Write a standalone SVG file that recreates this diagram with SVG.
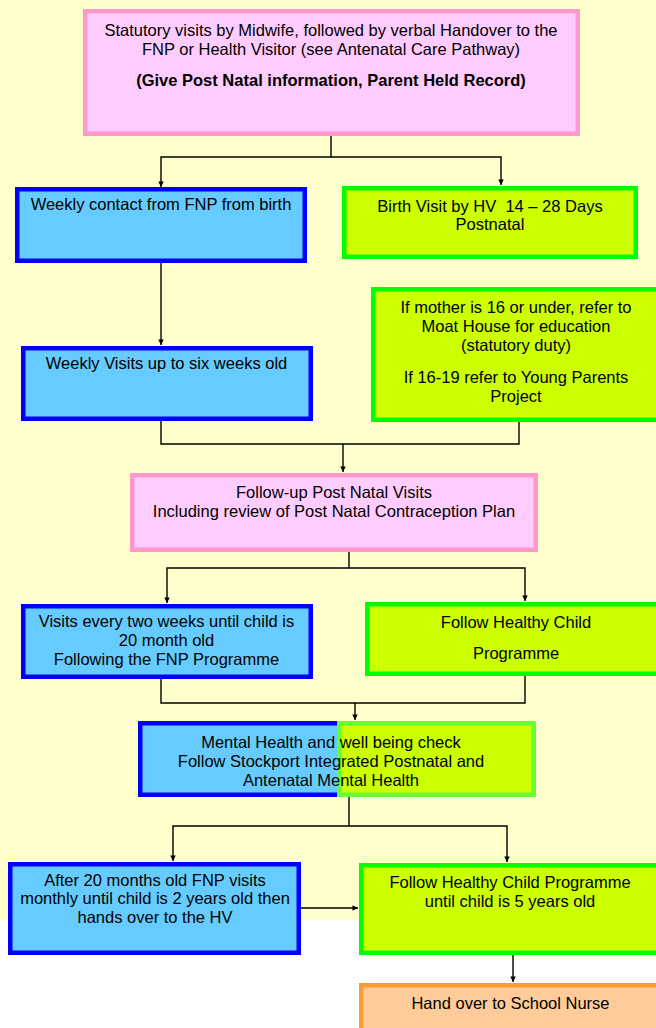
<svg xmlns="http://www.w3.org/2000/svg" width="656" height="1028" viewBox="0 0 656 1028">
<style>
text{font-family:"Liberation Sans",Arial,sans-serif;font-size:16.5px;fill:#000;text-anchor:middle}
.b{font-weight:bold}
.pink{fill:#FFCCFF;stroke:#FF99CC;stroke-width:4.5}
.blue{fill:#66CCFF;stroke:#0000FF;stroke-width:4.5}
.green{fill:#CCFF00;stroke:#00FF00;stroke-width:4.5}
.green2{fill:#CCFF00;stroke:#66FF33;stroke-width:4.5}
.orange{fill:#FFCC99;stroke:#FF9933;stroke-width:4.5}
.c{fill:none;stroke:#000;stroke-width:1.4}
.a{marker-end:url(#ah)}
</style>
<defs>
<marker id="ah" viewBox="0 0 10 10" refX="10" refY="5" markerWidth="6" markerHeight="5.5" markerUnits="userSpaceOnUse" orient="auto">
<path d="M0,0 L10,5 L0,10 z" fill="#000"/>
</marker>
</defs>
<rect x="0" y="0" width="656" height="920" fill="#FFFFCC"/>
<g id="connectors">
<path class="c a" d="M331,136 V157 H161 V187"/>
<path class="c a" d="M331,157 H501 V185"/>
<path class="c a" d="M161,263 V345"/>
<path class="c" d="M161,421 V444 H519 V422"/>
<path class="c a" d="M343,444 V472"/>
<path class="c a" d="M349,552 V568 H167 V603"/>
<path class="c a" d="M349,568 H525 V601"/>
<path class="c" d="M161,679 V703 H525 V676"/>
<path class="c a" d="M355,703 V720"/>
<path class="c a" d="M349,797 V826 H173 V861"/>
<path class="c a" d="M349,826 H507 V862"/>
<path class="c a" d="M301,908 H358"/>
<path class="c a" d="M513,955 V982"/>
</g>
<g id="n1">
<rect class="pink" x="85.25" y="11.25" width="492.5" height="122.5"/>
<text x="331" y="36">Statutory visits by Midwife, followed by verbal Handover to the</text>
<text x="331" y="55">FNP or Health Visitor (see Antenatal Care Pathway)</text>
<text class="b" x="331" y="86">(Give Post Natal information, Parent Held Record)</text>
</g>
<g id="n2">
<rect class="blue" x="17.25" y="189.25" width="287.5" height="71.5"/>
<text x="161" y="210">Weekly contact from FNP from birth</text>
</g>
<g id="n3">
<rect class="green" x="344.25" y="188.25" width="291.5" height="68.5"/>
<text x="490" y="212" xml:space="preserve">Birth Visit by HV  14 – 28 Days</text>
<text x="490" y="230">Postnatal</text>
</g>
<g id="n4">
<rect class="green" x="373.25" y="289.25" width="310" height="130.5"/>
<text x="516" y="313">If mother is 16 or under, refer to</text>
<text x="516" y="332">Moat House for education</text>
<text x="516" y="351">(statutory duty)</text>
<text x="516" y="383">If 16-19 refer to Young Parents</text>
<text x="516" y="402">Project</text>
</g>
<g id="n5">
<rect class="blue" x="23.25" y="348.25" width="287.5" height="70.5"/>
<text x="166.5" y="369">Weekly Visits up to six weeks old</text>
</g>
<g id="n6">
<rect class="pink" x="132.25" y="475.25" width="403.5" height="74.5"/>
<text x="334" y="498">Follow-up Post Natal Visits</text>
<text x="334" y="517">Including review of Post Natal Contraception Plan</text>
</g>
<g id="n7">
<rect class="blue" x="23.25" y="606.25" width="287.5" height="70.5"/>
<text x="166.5" y="627">Visits every two weeks until child is</text>
<text x="166.5" y="646">20 month old</text>
<text x="166.5" y="665">Following the FNP Programme</text>
</g>
<g id="n8">
<rect class="green" x="367.25" y="604.25" width="310" height="69.5"/>
<text x="516" y="628">Follow Healthy Child</text>
<text x="516" y="659">Programme</text>
</g>
<g id="n9">
<rect class="blue" x="140.25" y="723.25" width="240" height="71.5"/>
<rect class="green2" x="339.25" y="723.25" width="194.5" height="71.5"/>
<text x="331" y="748">Mental Health and well being check</text>
<text x="331" y="767">Follow Stockport Integrated Postnatal and</text>
<text x="331" y="786">Antenatal Mental Health</text>
</g>
<g id="n10">
<rect class="blue" x="10.25" y="864.25" width="288.5" height="88.5"/>
<text x="155" y="886">After 20 months old FNP visits</text>
<text x="155" y="904">monthly until child is 2 years old then</text>
<text x="155" y="923">hands over to the HV</text>
</g>
<g id="n11">
<rect class="green" x="361.25" y="865.25" width="320" height="87.5"/>
<text x="510" y="888">Follow Healthy Child Programme</text>
<text x="510" y="907">until child is 5 years old</text>
</g>
<g id="n12">
<rect class="orange" x="361.25" y="985.25" width="320" height="80"/>
<text x="510.5" y="1009">Hand over to School Nurse</text>
</g>
</svg>
